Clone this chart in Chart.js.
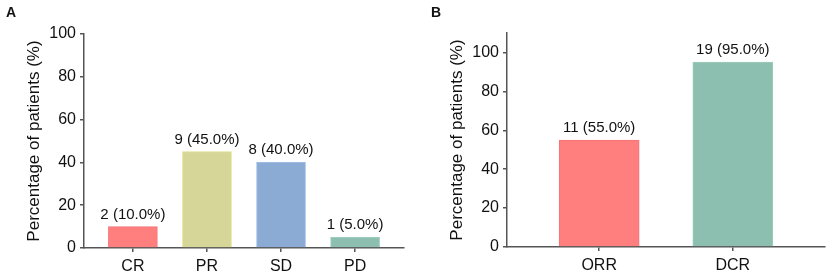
<!DOCTYPE html>
<html>
<head>
<meta charset="utf-8">
<script src="https://cdn.jsdelivr.net/npm/chart.js@4.4.1/dist/chart.umd.min.js"></script>
<style>
  body { margin: 0; background: #fff; }
  #wrap { position: relative; width: 829px; height: 274px; }
  .panel { position: absolute; top: 0; height: 274px; }
  .letter { position: absolute; top: 4px; font: bold 14px "Liberation Sans", Arial, sans-serif; color: #111; }
</style>
</head>
<body>
<div id="wrap">
  <div class="panel" style="left:0;width:420px"><canvas id="chartA" width="420" height="274"></canvas></div>
  <div class="panel" style="left:420px;width:409px"><canvas id="chartB" width="409" height="274"></canvas></div>
  <div class="letter" style="left:6px">A</div>
  <div class="letter" style="left:431px">B</div>
</div>
<script>
// panel A: best response
const labelsA = ["CR", "PR", "SD", "PD"];
const countsA = [2, 9, 8, 1];
const pctA = [10, 45, 40, 5];
const colorsA = ["#FF7F7F", "#D6D699", "#8BABD4", "#8DBFB0"];
const bordersA = ["#F47378", "#E2E08E", "#9CBDE2", "#9CCDBE"];

// panel B: ORR / DCR
const labelsB = ["ORR", "DCR"];
const countsB = [11, 19];
const pctB = [55, 95];
const colorsB = ["#FF7F7F", "#8DBFB1"];
const bordersB = ["#F47378", "#9CCDBE"];

const FONT = '"Liberation Sans", Arial, sans-serif';
const axisColor = "#555";

const valueLabels = {
  id: "valueLabels",
  afterDatasetsDraw(chart, args, opts) {
    const ctx = chart.ctx;
    const meta = chart.getDatasetMeta(0);
    ctx.save();
    ctx.font = "15px " + FONT;
    ctx.fillStyle = "#111";
    ctx.textAlign = "center";
    ctx.textBaseline = "alphabetic";
    meta.data.forEach((bar, i) => {
      const txt = opts.counts[i] + " (" + opts.pcts[i].toFixed(1) + "%)";
      ctx.fillText(txt, bar.x, bar.y - 8);
    });
    ctx.restore();
  },
};

const makeChart = (id, labels, counts, pcts, colors, borders, cfg) => {
  return new Chart(id, {
    type: "bar",
    data: {
      datasets: [
        {
          data: pcts.map((p, i) => ({ x: i, y: p })),
          backgroundColor: colors,
          borderColor: borders,
          borderWidth: 1,
          borderSkipped: "bottom",
          barThickness: cfg.barW,
        },
      ],
    },
    options: {
      responsive: false,
      animation: false,
      layout: { padding: { left: 0, top: cfg.top, right: cfg.right, bottom: 0 } },
      plugins: {
        legend: { display: false },
        tooltip: { enabled: false },
        valueLabels: { counts: counts, pcts: pcts },
      },
      scales: {
        x: {
          type: "linear",
          offset: false,
          min: cfg.xmin,
          max: cfg.xmax,
          afterBuildTicks: (s) => {
            s.ticks = labels.map((_, i) => ({ value: i }));
          },
          afterFit: (s) => {
            s.height = cfg.xh;
          },
          ticks: {
            callback: (v) => labels[v],
            font: { size: 16, family: FONT },
            color: "#111",
            padding: 5,
            maxRotation: 0,
          },
          grid: { drawOnChartArea: false, tickLength: 4, color: axisColor, lineWidth: 1.5, offset: false },
          border: { color: axisColor, width: 1.5 },
        },
        y: {
          min: 0,
          max: cfg.ymax,
          afterFit: (s) => {
            s.width = cfg.yw;
          },
          ticks: {
            stepSize: 20,
            includeBounds: false,
            font: { size: 16, family: FONT },
            color: "#111",
            padding: 4,
          },
          title: {
            display: true,
            text: "Percentage of patients (%)",
            font: { size: 17, family: FONT },
            color: "#111",
            padding: { top: cfg.titlePad, bottom: 0 },
          },
          grid: { drawOnChartArea: false, tickLength: 4, color: axisColor, lineWidth: 1.5 },
          border: { color: axisColor, width: 1.5 },
        },
      },
    },
    plugins: [valueLabels],
  });
};

makeChart("chartA", labelsA, countsA, pctA, colorsA, bordersA, {
  barW: 49, top: 34, right: 16, xh: 26, yw: 84, ymax: 100, xmin: -0.66, xmax: 3.66, titlePad: 24,
});
makeChart("chartB", labelsB, countsB, pctB, colorsB, bordersB, {
  barW: 80, top: 33, right: 4, xh: 27, yw: 87, ymax: 110, xmin: -0.69, xmax: 1.69, titlePad: 27,
});
</script>
</body>
</html>
